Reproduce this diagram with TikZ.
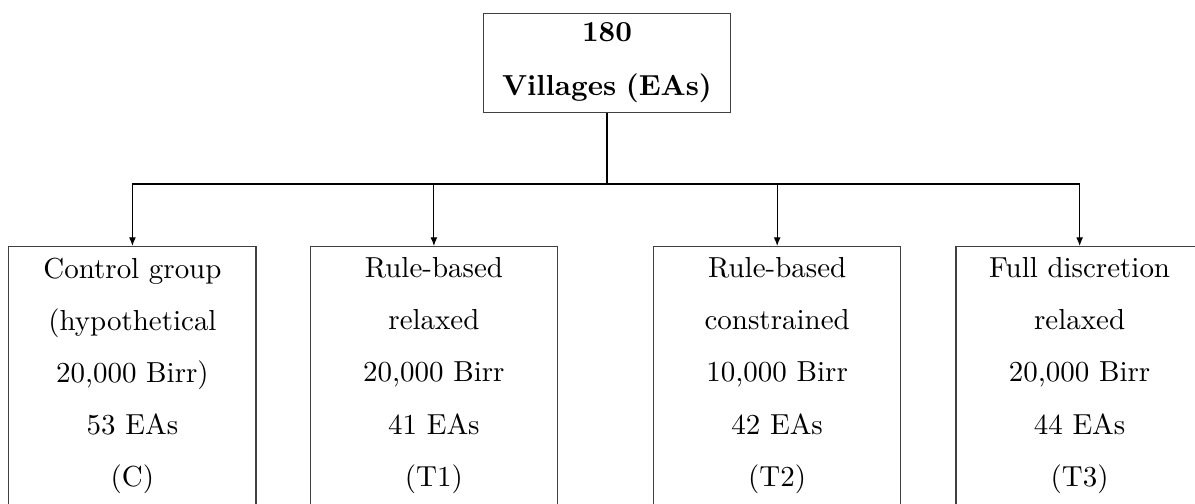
\documentclass[tikz,border=0pt]{standalone}
\usepackage{tikz}
\usetikzlibrary{positioning,arrows.meta}

\begin{document}
\begin{tikzpicture}[
    box/.style={draw=black!75, text width=2.85cm, inner xsep=0.075cm, inner ysep=3.8pt, align=center,
        execute at begin node={\setlength{\baselineskip}{18pt}}},
    link/.style={-{Latex[length=3pt,width=2.4pt]}}
]
    \useasboundingbox (0,0) rectangle (14.5,-6.115);

    % Sampling frame
    \node[box, font=\bfseries, anchor=north, inner ysep=3pt, minimum height=1.2cm,
        execute at begin node={\setlength{\baselineskip}{18.6pt}}] (root) at (7.365,-0.158) {180\\Villages (EAs)};
    \coordinate (split) at (7.365,-2.232);

    % Treatment arms
    \node[box, anchor=north] (ctrl) at (1.607,-2.985) {Control group\\(hypothetical\\20,000 Birr)\\53 EAs\\(C)};
    \node[box, anchor=north] (tone) at (5.265,-2.985) {Rule-based\\relaxed\\20,000 Birr\\41 EAs\\(T1)};
    \node[box, anchor=north] (ttwo) at (9.43,-2.985) {Rule-based\\constrained\\10,000 Birr\\42 EAs\\(T2)};
    \node[box, anchor=north] (tthree) at (13.10,-2.985) {Full discretion\\relaxed\\20,000 Birr\\44 EAs\\(T3)};

    % Connectors
    \draw[thick] (root) -- (split);
    \draw (split -| ctrl.north) -- (split -| tthree.north);
    \foreach \n in {ctrl,tone,ttwo,tthree}
        \draw[link] (split -| \n.north) -- (\n.north);
\end{tikzpicture}
\end{document}
